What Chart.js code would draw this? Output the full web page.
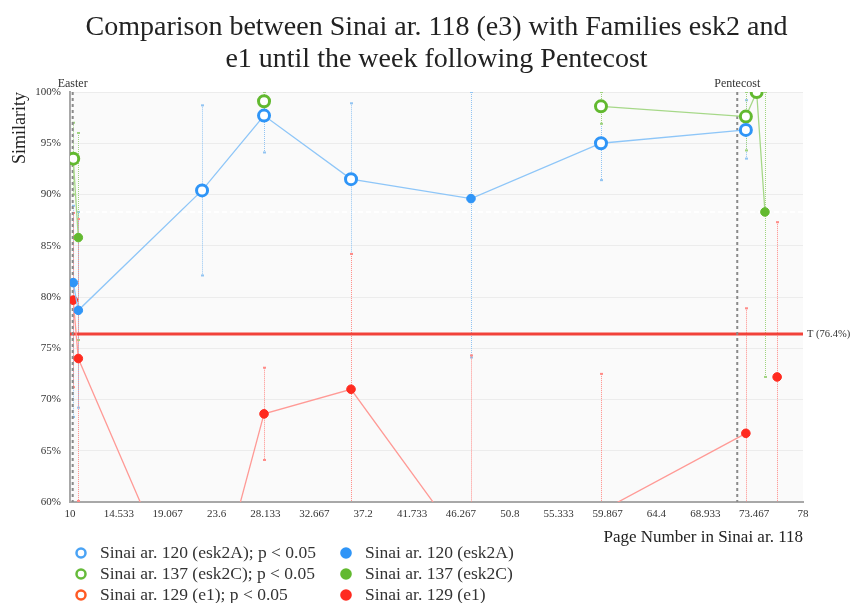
<!DOCTYPE html>
<html>
<head>
<meta charset="utf-8">
<script src="https://cdn.jsdelivr.net/npm/chart.js@4.4.0/dist/chart.umd.min.js"></script>
<style>
body { margin: 0; background: #fff; }
</style>
</head>
<body>
<canvas id="chart" width="853" height="603"></canvas>
<script>
// page numbers (x) where the samples were taken
var pages = [10.3, 10.77, 22.25, 28.0, 36.07, 47.2, 59.26, 72.7, 73.7, 74.47, 75.6];

// similarity in %, null = no value
var esk2A = [81.4, 78.7, 90.4, 97.7, 91.5, 89.6, 95.0, 96.3, null, null, null];
var esk2C = [93.5, 85.8, null, 99.1, null, null, 98.6, 97.6, 100, 88.3, null];
var e1 = [79.7, 74.0, 46.0, 68.6, 71.0, 54.9, 59.1, 66.7, null, null, 72.2];

// 1 = p < 0.05 (drawn as open circle)
var esk2ASig = [0, 0, 1, 1, 1, 0, 1, 1, 0, 0, 0];
var esk2CSig = [1, 0, 0, 1, 0, 0, 1, 1, 1, 0, 0];
var e1Sig = [0, 0, 0, 0, 0, 0, 0, 0, 0, 0, 0];

// error bars
var esk2AHigh = [88.9, 88.3, 98.7, 100, 98.9, 100, 100, 99.2, null, null, null];
var esk2ALow = [68.3, 69.2, 82.1, 94.1, 84.2, 74.1, 91.4, 93.5, null, null, null];
var esk2CHigh = [97, 96.0, null, 100, null, null, 100, 100, 100, 100, null];
var esk2CLow = [90, 75.8, null, 98, null, null, 96.9, 94.3, 100, 72.2, null];
var e1High = [88.2, 87.6, 58, 73.1, 84.2, 74.3, 72.5, 78.9, null, null, 87.3];
var e1Low = [71.2, 60.1, 34, 64.1, 55, 40, 45, 52, null, null, 55];

var xTicks = [10, 14.533, 19.067, 23.6, 28.133, 32.667, 37.2, 41.733, 46.267, 50.8, 55.333, 59.867, 64.4, 68.933, 73.467, 78];
var feastNames = ["Easter", "Pentecost"];
var feastPages = [10.25, 71.9];
var threshold = 76.4;
var upperRef = 88.3;

var titleLines = ["Comparison between Sinai ar. 118 (e3) with Families esk2 and", "e1 until the week following Pentecost"];
var legendNames = [
    "Sinai ar. 120 (esk2A); p < 0.05", "Sinai ar. 120 (esk2A)",
    "Sinai ar. 137 (esk2C); p < 0.05", "Sinai ar. 137 (esk2C)",
    "Sinai ar. 129 (e1); p < 0.05", "Sinai ar. 129 (e1)"
];

var FONT = "'Liberation Serif', 'DejaVu Serif', serif";

var families = [
    { name: "esk2A", vals: esk2A, sig: esk2ASig, hi: esk2AHigh, lo: esk2ALow, color: "#2f95f7", line: "#8ec6f8", bar: "#92c4f2" },
    { name: "esk2C", vals: esk2C, sig: esk2CSig, hi: esk2CHigh, lo: esk2CLow, color: "#62b92f", line: "#a6d888", bar: "#9fd37f" },
    { name: "e1", vals: e1, sig: e1Sig, hi: e1High, lo: e1Low, color: "#ff2a1f", line: "#ff9a96", bar: "#ff8c88" }
];

function makeDataset(f) {
    var pts = [];
    for (var i = 0; i < pages.length; i++) {
        pts.push({ x: pages[i], y: f.vals[i] });
    }
    return {
        label: f.name,
        data: pts,
        borderColor: f.line,
        borderWidth: 1.3,
        fill: false,
        tension: 0,
        pointBackgroundColor: f.sig.map(function (s) { return s ? "#ffffff" : f.color; }),
        pointBorderColor: f.color,
        pointBorderWidth: f.sig.map(function (s) { return s ? 3 : 1; }),
        pointRadius: f.sig.map(function (s) { return s ? 5.5 : 4.3; }),
        pointHoverRadius: 6
    };
}

var decorPlugin = {
    id: "decor",
    beforeDraw: function (chart) {
        var a = chart.chartArea, ctx = chart.ctx;
        ctx.save();
        ctx.fillStyle = "#fafafa";
        ctx.fillRect(a.left, a.top, a.right - a.left, a.bottom - a.top);

        // title, centred over the plot area
        ctx.fillStyle = "#222";
        ctx.font = "28px " + FONT;
        ctx.textAlign = "center";
        ctx.textBaseline = "middle";
        var cx = (a.left + a.right) / 2;
        ctx.fillText(titleLines[0], cx, 28);
        ctx.fillText(titleLines[1], cx, 60);
        ctx.restore();
    },
    beforeDatasetsDraw: function (chart) {
        var a = chart.chartArea, ctx = chart.ctx;
        var xs = chart.scales.x, ys = chart.scales.y;
        ctx.save();
        ctx.beginPath();
        ctx.rect(a.left, a.top, a.right - a.left, a.bottom - a.top);
        ctx.clip();

        // faint white dashed reference
        var yu = ys.getPixelForValue(upperRef);
        ctx.strokeStyle = "rgba(255,255,255,0.95)";
        ctx.lineWidth = 2;
        ctx.setLineDash([5, 3]);
        ctx.beginPath();
        ctx.moveTo(a.left, yu);
        ctx.lineTo(a.right, yu);
        ctx.stroke();

        // error bars
        ctx.lineWidth = 1;
        families.forEach(function (f) {
            for (var i = 0; i < pages.length; i++) {
                if (f.hi[i] == null || f.lo[i] == null) continue;
                var x = Math.round(xs.getPixelForValue(pages[i])) + 0.5;
                var y1 = ys.getPixelForValue(f.hi[i]);
                var y2 = ys.getPixelForValue(f.lo[i]);
                ctx.strokeStyle = f.bar;
                ctx.setLineDash([1, 1]);
                ctx.beginPath();
                ctx.moveTo(x, y1);
                ctx.lineTo(x, y2);
                ctx.stroke();
                ctx.setLineDash([]);
                ctx.fillStyle = f.bar;
                ctx.fillRect(x - 1.5, y1 - 1, 3, 2);
                ctx.fillRect(x - 1.5, y2 - 1, 3, 2);
            }
        });

        // threshold line
        var yt = ys.getPixelForValue(threshold);
        ctx.strokeStyle = "#f2423a";
        ctx.lineWidth = 3;
        ctx.beginPath();
        ctx.moveTo(a.left, yt);
        ctx.lineTo(a.right, yt);
        ctx.stroke();

        // feast lines
        ctx.strokeStyle = "#8a8a8a";
        ctx.lineWidth = 2;
        ctx.setLineDash([3, 3]);
        feastPages.forEach(function (p) {
            var x = xs.getPixelForValue(p);
            ctx.beginPath();
            ctx.moveTo(x, a.top);
            ctx.lineTo(x, a.bottom);
            ctx.stroke();
        });
        ctx.restore();

        // labels outside the area
        ctx.save();
        ctx.fillStyle = "#333";
        ctx.font = "12px " + FONT;
        ctx.textAlign = "center";
        ctx.textBaseline = "alphabetic";
        feastPages.forEach(function (p, i) {
            ctx.fillText(feastNames[i], xs.getPixelForValue(p), a.top - 5);
        });
        ctx.font = "10.5px " + FONT;
        ctx.textAlign = "left";
        ctx.textBaseline = "middle";
        ctx.fillText("T (" + threshold + "%)", a.right + 4, yt);
        ctx.restore();
    },
    afterDraw: function (chart) {
        var ctx = chart.ctx;
        var colX = [81, 346];
        var rowY = [553, 574, 595];
        var legColors = ["#4aa3f5", "#66bb3a", "#ff5a24"];
        ctx.save();
        ctx.font = "17.5px " + FONT;
        ctx.textBaseline = "middle";
        ctx.textAlign = "left";
        for (var r = 0; r < 3; r++) {
            for (var c = 0; c < 2; c++) {
                var cx = colX[c], cy = rowY[r];
                ctx.beginPath();
                if (c == 0) {
                    ctx.arc(cx, cy, 4.5, 0, Math.PI * 2);
                    ctx.fillStyle = "#fff";
                    ctx.fill();
                    ctx.lineWidth = 2.5;
                    ctx.strokeStyle = legColors[r];
                    ctx.stroke();
                } else {
                    ctx.arc(cx, cy, 5.8, 0, Math.PI * 2);
                    ctx.fillStyle = families[r].color;
                    ctx.fill();
                }
                ctx.fillStyle = "#333";
                ctx.fillText(legendNames[r * 2 + c], cx + 19, cy);
            }
        }
        ctx.restore();
    }
};

var chart = new Chart(document.getElementById("chart"), {
    type: "line",
    data: {
        datasets: families.map(makeDataset)
    },
    options: {
        responsive: false,
        animation: false,
        layout: { padding: { left: 0, right: 50, top: 92, bottom: 0 } },
        plugins: {
            legend: { display: false },
            tooltip: { enabled: false },
            title: { display: false }
        },
        scales: {
            x: {
                type: "linear",
                min: 10,
                max: 78,
                afterFit: function (s) { s.height = 101; },
                afterBuildTicks: function (s) {
                    s.ticks = xTicks.map(function (v) { return { value: v }; });
                },
                ticks: {
                    autoSkip: false,
                    maxRotation: 0,
                    padding: 6,
                    color: "#333",
                    font: { family: FONT, size: 11 },
                    callback: function (v) { return String(+v.toFixed(3)); }
                },
                grid: { display: false, drawTicks: false },
                border: { color: "#a8a8a8", width: 2 },
                title: {
                    display: true,
                    text: "Page Number in Sinai ar. 118",
                    align: "end",
                    color: "#222",
                    font: { family: FONT, size: 17 },
                    padding: { top: 4, bottom: 55 }
                }
            },
            y: {
                min: 60,
                max: 100,
                afterFit: function (s) { s.width = 70; },
                ticks: {
                    stepSize: 5,
                    padding: 9,
                    color: "#333",
                    font: { family: FONT, size: 11 },
                    callback: function (v) { return v + "%"; }
                },
                grid: { color: "#ececec", drawTicks: false },
                border: { color: "#a8a8a8", width: 2 },
                title: {
                    display: true,
                    text: "Similarity",
                    align: "end",
                    color: "#222",
                    font: { family: FONT, size: 18 },
                    padding: { top: 9, bottom: 0 }
                }
            }
        }
    },
    plugins: [decorPlugin]
});
</script>
</body>
</html>
